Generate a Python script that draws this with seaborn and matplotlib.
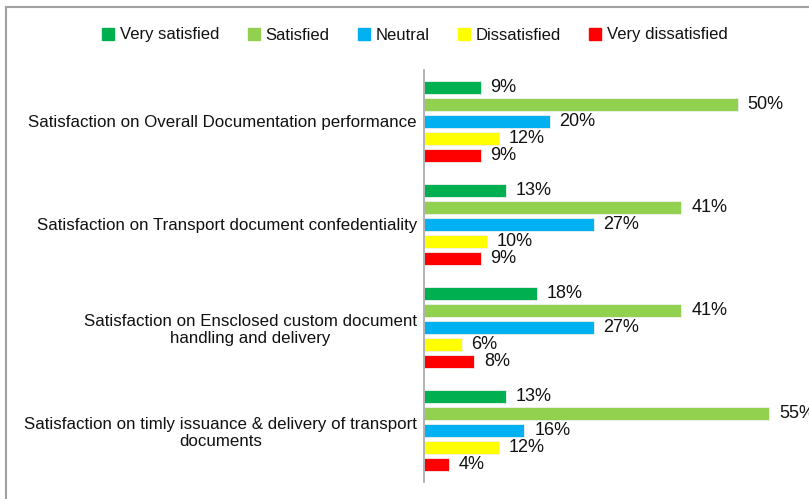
import pandas as pd
import seaborn as sns
import matplotlib.pyplot as plt
from matplotlib.patches import Rectangle

categories = [
    "Satisfaction on Overall Documentation performance",
    "Satisfaction on Transport document confedentiality",
    "Satisfaction on Ensclosed custom document\nhandling and delivery",
    "Satisfaction on timly issuance & delivery of transport\ndocuments",
]
levels = ["Very satisfied", "Satisfied", "Neutral", "Dissatisfied", "Very dissatisfied"]
very_satisfied = [9, 13, 18, 13]
satisfied = [50, 41, 41, 55]
neutral = [20, 27, 27, 16]
dissatisfied = [12, 10, 6, 12]
very_dissatisfied = [9, 9, 8, 4]
colors = ["#00B050", "#92D050", "#00B0F0", "#FFFF00", "#FF0000"]

series = [very_satisfied, satisfied, neutral, dissatisfied, very_dissatisfied]
rows = []
for level, vals in zip(levels, series):
    for cat, v in zip(categories, vals):
        rows.append({"Category": cat, "Level": level, "Value": v})
df = pd.DataFrame(rows)

sns.set_style("white")
plt.rcParams["font.family"] = ["Liberation Sans", "DejaVu Sans"]

fig = plt.figure(figsize=(8.09, 4.99), dpi=100)
ax = fig.add_axes([424 / 809, 17 / 499, 1 - 424 / 809, 412 / 499])

sns.barplot(
    data=df, y="Category", x="Value", hue="Level",
    order=categories, hue_order=levels, palette=colors, saturation=1,
    orient="h", width=0.825, gap=0.18, ax=ax, legend=False,
    edgecolor="#f0f0f0", linewidth=0.6,
)

for cont, vals in zip(ax.containers, series):
    ax.bar_label(cont, labels=[f"{v}%" for v in vals], padding=7,
                 fontsize=13, color="#111111")

ax.set_xlim(0, (809 - 424) / 6.28)
ax.set_ylim(3.5, -0.5)
ax.set_xlabel("")
ax.set_ylabel("")
ax.set_xticks([])
ax.tick_params(axis="y", length=0, pad=5, labelsize=12.2, labelcolor="#111111")
for lab in ax.get_yticklabels():
    lab.set_multialignment("center")
for s in ["top", "right", "bottom"]:
    ax.spines[s].set_visible(False)
ax.spines["left"].set_color("#a6a6a6")
ax.spines["left"].set_linewidth(1.2)

handles = [Rectangle((0, 0), 1, 1, color=c) for c in colors]
fig.legend(handles, levels, loc="center", bbox_to_anchor=(0.513, 1 - 35 / 499),
           ncol=5, frameon=False, fontsize=12, handlelength=0.72,
           handleheight=0.7, handletextpad=0.35, columnspacing=1.7,
           labelcolor="#111111")

fig.patches.append(Rectangle((6 / 809, -0.1), 1.2, 1 - 7 / 499 + 0.1,
                             transform=fig.transFigure, fill=False,
                             edgecolor="#a0a0a0", linewidth=1.5))

fig.savefig("out.png", dpi=100)
